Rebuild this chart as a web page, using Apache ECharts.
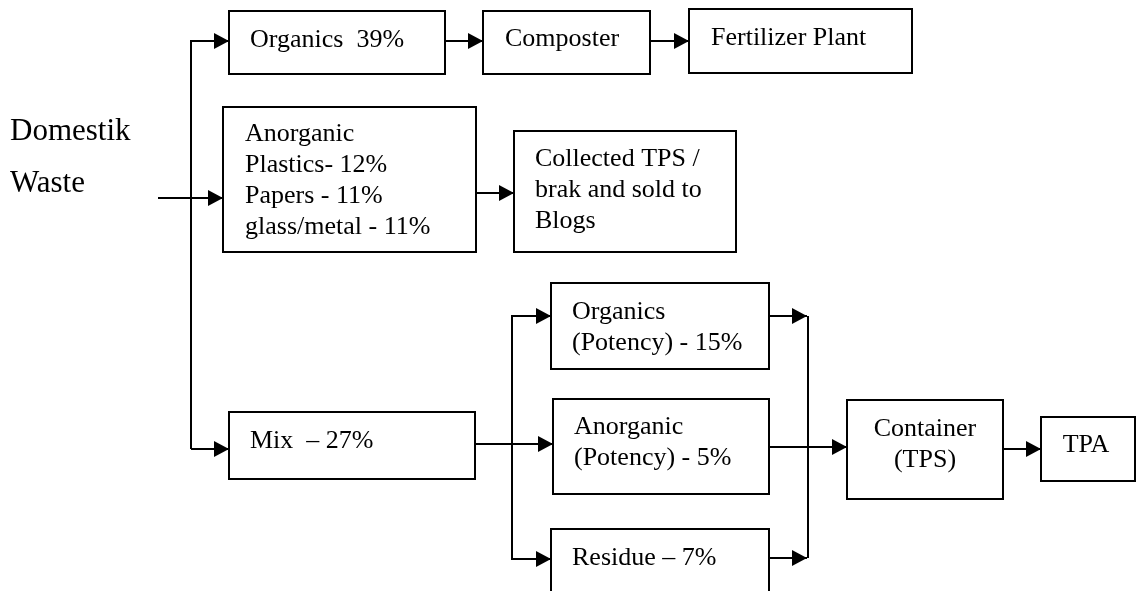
<!DOCTYPE html>
<html><head><meta charset="utf-8">
<script src="https://cdn.jsdelivr.net/npm/echarts@6/dist/echarts.min.js"></script>
<style>html,body{margin:0;padding:0;background:#fff}#c{width:1136px;height:591px}</style>
</head><body><div id="c"></div>
<script>
// ---- content ----
const sourceLines = ['Domestik', 'Waste'];
const boxLabels = [
  'Organics  39%',
  'Composter',
  'Fertilizer Plant',
  'Anorganic\nPlastics- 12%\nPapers - 11%\nglass/metal - 11%',
  'Collected TPS /\nbrak and sold to\nBlogs',
  'Mix  \u2013 27%',
  'Organics\n(Potency) - 15%',
  'Anorganic\n(Potency) - 5%',
  'Residue \u2013 7%',
  'Container\n(TPS)',
  'TPA'
];

// ---- layout (diagram units: x 0..1136, y 0..591 top-down) ----
const boxRects = [
  [229, 11, 445, 74],
  [483, 11, 650, 74],
  [689, 9, 912, 73],
  [223, 107, 476, 252],
  [514, 131, 736, 252],
  [229, 412, 475, 479],
  [551, 283, 769, 369],
  [553, 399, 769, 494],
  [551, 529, 769, 610],
  [847, 400, 1003, 499],
  [1041, 417, 1135, 481]
];
const labelAnchors = [
  [250, 40, 'left'],
  [505, 39, 'left'],
  [711, 38, 'left'],
  [245, 181, 'left'],
  [535, 190, 'left'],
  [250, 441, 'left'],
  [572, 328, 'left'],
  [574, 443, 'left'],
  [572, 558, 'left'],
  [925, 445, 'center'],
  [1086, 445, 'center']
];
const sourceAnchors = [[10, 132], [10, 184]];
const arrowPaths = [
  [[191, 449], [191, 41], [229, 41]],
  [[191, 449], [229, 449]],
  [[158, 198], [223, 198]],
  [[445, 41], [483, 41]],
  [[650, 41], [689, 41]],
  [[476, 193], [514, 193]],
  [[475, 444], [553, 444]],
  [[512, 444], [512, 316], [551, 316]],
  [[512, 444], [512, 559], [551, 559]],
  [[769, 316], [807, 316]],
  [[769, 558], [807, 558]],
  [[769, 447], [847, 447]],
  [[1003, 449], [1041, 449]]
];
const plainPaths = [
  [[808, 316], [808, 558]]
];

const FONT = '"Liberation Serif", "Times New Roman", serif';

const connectors = arrowPaths.map(p => ({pts: p, arrow: true}))
  .concat(plainPaths.map(p => ({pts: p, arrow: false})));

function renderConnector(params, api) {
  const c = connectors[params.dataIndex];
  const pts = c.pts.map(p => api.coord(p));
  const children = [{
    type: 'polyline', shape: {points: pts},
    style: {stroke: '#000', lineWidth: 2, fill: null}
  }];
  if (c.arrow) {
    const a = pts[pts.length - 2], b = pts[pts.length - 1];
    const dx = b[0] - a[0], dy = b[1] - a[1], L = Math.hypot(dx, dy);
    const ux = dx / L, uy = dy / L, len = 15, hw = 8;
    const bx = b[0] - ux * len, by = b[1] - uy * len;
    children.push({
      type: 'polygon',
      shape: {points: [[b[0], b[1]], [bx - uy * hw, by + ux * hw], [bx + uy * hw, by - ux * hw]]},
      style: {fill: '#000', stroke: null}
    });
  }
  return {type: 'group', children};
}

function renderBox(params, api) {
  const r = boxRects[params.dataIndex];
  const a = labelAnchors[params.dataIndex];
  const p0 = api.coord([r[0], r[1]]), p1 = api.coord([r[2], r[3]]);
  const t = api.coord([a[0], a[1]]);
  return {
    type: 'group',
    children: [
      {type: 'rect', shape: {x: p0[0], y: p0[1], width: p1[0] - p0[0], height: p1[1] - p0[1]},
       style: {fill: '#fff', stroke: '#000', lineWidth: 2}},
      {type: 'text', style: {text: boxLabels[params.dataIndex], x: t[0], y: t[1],
        fill: '#000', font: '26px ' + FONT, align: a[2], verticalAlign: 'middle', lineHeight: 31}}
    ]
  };
}

function renderSource(params, api) {
  const a = sourceAnchors[params.dataIndex];
  const t = api.coord(a);
  return {type: 'text', style: {text: sourceLines[params.dataIndex], x: t[0], y: t[1],
    fill: '#000', font: '31px ' + FONT, align: 'left', verticalAlign: 'middle'}};
}

const chart = echarts.init(document.getElementById('c'), null, {renderer: 'canvas'});
chart.setOption({
  backgroundColor: '#fff',
  animation: false,
  grid: {left: 0, right: 0, top: 0, bottom: 0},
  xAxis: {type: 'value', min: 0, max: 1136, show: false},
  yAxis: {type: 'value', min: 0, max: 591, inverse: true, show: false},
  series: [
    {type: 'custom', coordinateSystem: 'cartesian2d', renderItem: renderConnector,
     data: connectors.map(c => [c.pts[0][0], c.pts[0][1]]), silent: true, z: 1},
    {type: 'custom', coordinateSystem: 'cartesian2d', renderItem: renderBox,
     data: boxRects.map(r => [r[0], r[1]]), silent: true, z: 2},
    {type: 'custom', coordinateSystem: 'cartesian2d', renderItem: renderSource,
     data: sourceAnchors.map(a => [a[0], a[1]]), silent: true, z: 2}
  ]
});
</script>
</body></html>
